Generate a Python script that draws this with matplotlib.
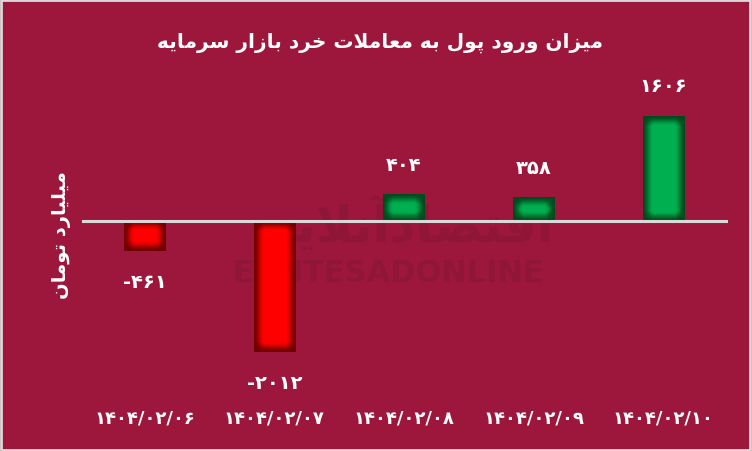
import numpy as np
import matplotlib
matplotlib.use("Agg")
import matplotlib.pyplot as plt
from matplotlib.patches import Rectangle
from matplotlib.colors import to_rgb

# ---------------- data ----------------
dates = ["1404/02/06", "1404/02/07", "1404/02/08", "1404/02/09", "1404/02/10"]
values = [-461, -2012, 404, 358, 1606]
title_text = "میزان ورود پول به معاملات خرد بازار سرمایه"
ylabel_text = "میلیارد تومان"
watermark_en = "EGHTESADONLINE"
watermark_fa = "اقتصادآنلاین"

# ---------------- helpers ----------------
FA_DIGITS = str.maketrans("0123456789", "۰۱۲۳۴۵۶۷۸۹")

def fa_num(s):
    return str(s).translate(FA_DIGITS)

FORMS = {
    '\u0627': ('\uFE8D', '\uFE8E', None, None),      # alef
    '\u0622': ('\uFE81', '\uFE82', None, None),      # alef madda
    '\u0628': ('\uFE8F', '\uFE90', '\uFE91', '\uFE92'),  # beh
    '\u067E': ('\uFB56', '\uFB57', '\uFB58', '\uFB59'),  # peh
    '\u062A': ('\uFE95', '\uFE96', '\uFE97', '\uFE98'),  # teh
    '\u062E': ('\uFEA5', '\uFEA6', '\uFEA7', '\uFEA8'),  # khah
    '\u062F': ('\uFEA9', '\uFEAA', None, None),      # dal
    '\u0631': ('\uFEAD', '\uFEAE', None, None),      # reh
    '\u0632': ('\uFEAF', '\uFEB0', None, None),      # zain
    '\u0633': ('\uFEB1', '\uFEB2', '\uFEB3', '\uFEB4'),  # seen
    '\u0635': ('\uFEB9', '\uFEBA', '\uFEBB', '\uFEBC'),  # sad
    '\u0639': ('\uFEC9', '\uFECA', '\uFECB', '\uFECC'),  # ain
    '\u0642': ('\uFED5', '\uFED6', '\uFED7', '\uFED8'),  # qaf
    '\u0644': ('\uFEDD', '\uFEDE', '\uFEDF', '\uFEE0'),  # lam
    '\u0645': ('\uFEE1', '\uFEE2', '\uFEE3', '\uFEE4'),  # meem
    '\u0646': ('\uFEE5', '\uFEE6', '\uFEE7', '\uFEE8'),  # noon
    '\u0647': ('\uFEE9', '\uFEEA', '\uFEEB', '\uFEEC'),  # heh
    '\u0648': ('\uFEED', '\uFEEE', None, None),      # waw
    '\u06CC': ('\uFBFC', '\uFBFD', '\uFBFE', '\uFBFF'),  # farsi yeh
}

def shape(text):
    chars = list(text)
    n = len(chars)
    out = []
    dual = lambda c: c in FORMS and FORMS[c][2] is not None
    i = 0
    while i < n:
        c = chars[i]
        if c not in FORMS:
            out.append(c)
            i += 1
            continue
        prev = chars[i - 1] if i > 0 else None
        join_prev = prev is not None and dual(prev)
        if c == '\u0644' and i + 1 < n and chars[i + 1] == '\u0627':
            out.append('\uFEFC' if join_prev else '\uFEFB')
            i += 2
            continue
        nxt = chars[i + 1] if i + 1 < n else None
        join_next = dual(c) and nxt is not None and nxt in FORMS
        iso, fin, ini, med = FORMS[c]
        if join_prev and join_next:
            out.append(med)
        elif join_prev:
            out.append(fin)
        elif join_next:
            out.append(ini)
        else:
            out.append(iso)
        i += 1
    return ''.join(reversed(out))

# ---------------- style ----------------
BG = '#9C173B'
LINE = '#D9D9D9'
WM = '#8F1637'
plt.rcParams['font.family'] = ['DejaVu Sans']

fig = plt.figure(figsize=(7.52, 4.52), dpi=100, facecolor=BG)
fig.patches.append(Rectangle((0.001, 0.002), 0.997, 0.995, transform=fig.transFigure,
                             fill=False, edgecolor=LINE, lw=2.0))

ax = fig.add_axes([80 / 752, 1 - 390 / 452, 648 / 752, 330 / 452])
ax.set_facecolor(BG)
ax.patch.set_alpha(0)
x = np.arange(len(values))
ax.set_xlim(-0.5, len(values) - 0.5)
ax.set_ylim(-2581, 2488)
for s in ax.spines.values():
    s.set_visible(False)
ax.set_yticks([])
ax.set_xticks(x)
ax.set_xticklabels([fa_num(d) for d in dates], color='white', fontsize=13, fontweight='bold')
ax.tick_params(axis='x', length=0, pad=14)

# faint watermark
ax.text(0.475, 0.352, watermark_en, transform=ax.transAxes, color=WM, fontsize=22,
        fontweight='bold', ha='center', va='center', zorder=0)
ax.text(0.5, 0.50, shape(watermark_fa), transform=ax.transAxes, color=WM, fontsize=36,
        fontweight='bold', ha='center', va='center', zorder=0)

bars = ax.bar(x, values, width=0.317, color='none', edgecolor='none', zorder=2)

fig.canvas.draw()

def bar_image(w_px, h_px, bright, dark, edge=10.0):
    w = max(int(round(w_px)), 2)
    h = max(int(round(h_px)), 2)
    xx = np.arange(w) + 0.5
    yy = np.arange(h) + 0.5
    dx = np.minimum(xx, w - xx)[None, :]
    dy = np.minimum(yy, h - yy)[:, None]
    tx = np.clip(dx / edge, 0, 1)
    ty = np.clip(dy / edge, 0, 1)
    t = tx * ty
    t = t * t * (3 - 2 * t)
    b = np.array(to_rgb(bright))
    k = np.array(to_rgb(dark))
    img = k[None, None, :] + (b - k)[None, None, :] * t[:, :, None]
    return img

for rect, v in zip(bars, values):
    x0, y0 = rect.get_x(), rect.get_y()
    w, h = rect.get_width(), rect.get_height()
    p0 = ax.transData.transform((x0, y0))
    p1 = ax.transData.transform((x0 + w, y0 + h))
    wp, hp = abs(p1[0] - p0[0]), abs(p1[1] - p0[1])
    if v >= 0:
        img = bar_image(wp, hp, '#00B050', '#004A1C')
    else:
        img = bar_image(wp, hp, '#FF0000', '#700000')
    ylo, yhi = min(y0, y0 + h), max(y0, y0 + h)
    ax.imshow(img, extent=(x0, x0 + w, ylo, yhi), aspect='auto', zorder=2,
              interpolation='bilinear')
    off = 22 if v >= 0 else -22
    ax.annotate(('-' + fa_num(abs(v))) if v < 0 else fa_num(v),
                xy=(rect.get_x() + w / 2, v), xytext=(0, off), textcoords='offset points',
                ha='center', va='center', color='white', fontsize=14, fontweight='bold',
                zorder=4)

ax.set_xlim(-0.5, len(values) - 0.5)
ax.set_ylim(-2581, 2488)
ax.axhline(0, xmin=3 / 648, xmax=1, color=LINE, lw=2.2, zorder=3)

fig.text(380 / 752, 1 - 43 / 452, shape(title_text), color='white', fontsize=14.5,
         fontweight='bold', ha='center', va='center')
fig.text(62 / 752, 1 - 235 / 452, shape(ylabel_text), color='white', fontsize=14,
         fontweight='bold', ha='center', va='center', rotation=90)

fig.savefig('out.png', dpi=100, facecolor=BG)
